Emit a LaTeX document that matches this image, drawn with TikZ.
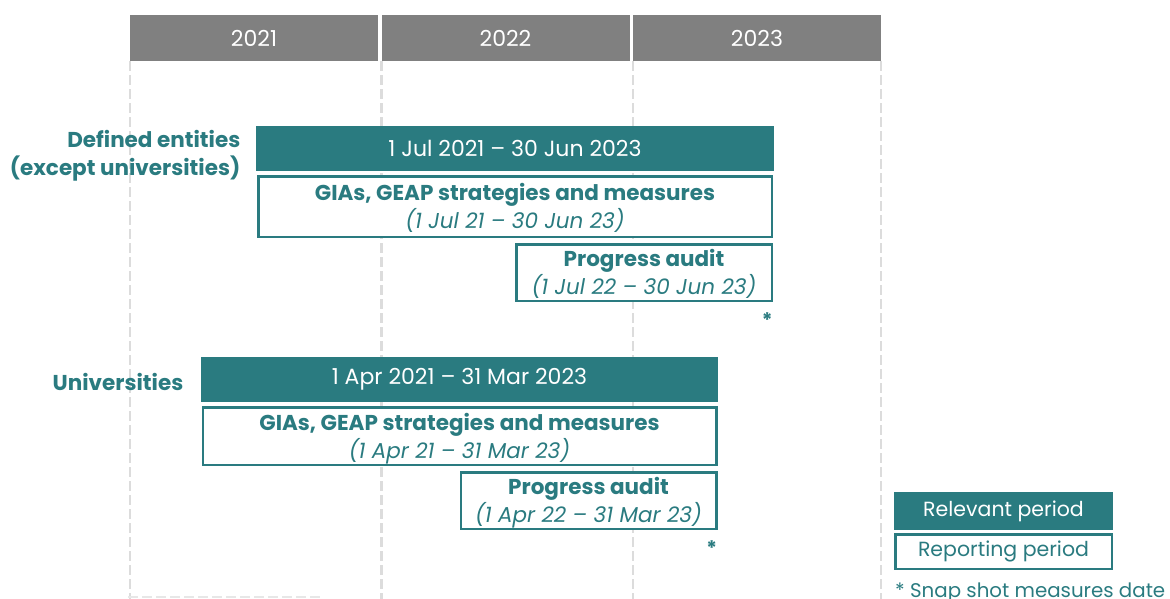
\documentclass[tikz,border=0pt]{standalone}
\usepackage{fontspec}
\setmainfont{Poppins}
\usetikzlibrary{positioning,backgrounds}

\begin{document}
\begin{tikzpicture}[x=1pt,y=-1pt]
      \definecolor{victeal}{HTML}{2A7B80}
      \definecolor{yeargray}{HTML}{808080}
      \definecolor{gridgray}{HTML}{DCDCDC}

      \newcommand{\rowname}[1]{\fontsize{21.5}{26}\selectfont\bfseries \begin{tabular}{@{}r@{}}#1\end{tabular}}
      \newcommand{\perioddesc}[2]{\fontsize{21.5}{26}\selectfont \raisebox{-3pt}[\height][\depth]{\begin{tabular}{@{}c@{}}\textbf{#1}\\\textit{#2}\end{tabular}}}

      \tikzstyle{year}      = [rectangle, fill=yeargray, text=white, minimum width=248pt, minimum height=46pt, inner sep=0pt, font=\fontsize{22}{24}\selectfont]
      \tikzstyle{relevant}  = [rectangle, fill=victeal, text=white, minimum height=45pt, inner sep=0pt, font=\fontsize{22}{24}\selectfont]
      \tikzstyle{reporting} = [rectangle, draw=victeal, line width=2.5pt, fill=white, text=victeal, inner sep=0pt]
      \tikzstyle{gridline}  = [gridgray, line width=2.5pt, dash pattern=on 10pt off 4pt]

      \useasboundingbox (0,0) rectangle (1170,599);

      % years
      \node [year] (y2021) at (254,38) {2021};
      \node [year] (y2022) at (505.5,38) {2022};
      \node [year] (y2023) at (757,38) {2023};

      % defined entities
      \node [relevant, minimum width=518pt] (defbar) at (515,148.5) {1 Jul 2021 -- 30 Jun 2023};
      \node [reporting, minimum width=513.5pt, minimum height=60.5pt, below = 4pt of defbar] (defgias)
            {\perioddesc{GIAs, GEAP strategies and measures}{(1 Jul 21 -- 30 Jun 23)}};
      \node [reporting, minimum width=255.5pt, minimum height=56.5pt, below left = 5pt and 0pt of defgias.south east] (defaudit)
            {\perioddesc{Progress audit}{(1 Jul 22 -- 30 Jun 23)}};
      \node [text=victeal, font=\fontsize{20}{22}\selectfont\bfseries, below left = 7pt and -3pt of defaudit.south east] (defstar) {*};
      \node [text=victeal, left = 12pt of defbar, yshift=-8pt] (deflabel) {\rowname{Defined entities\\(except universities)}};

      % universities
      \node [relevant, minimum width=517pt] (unibar) at (459.5,379.5) {1 Apr 2021 -- 31 Mar 2023};
      \node [reporting, minimum width=513.5pt, minimum height=57.5pt, below = 4pt of unibar] (unigias)
            {\perioddesc{GIAs, GEAP strategies and measures}{(1 Apr 21 -- 31 Mar 23)}};
      \node [reporting, minimum width=255.5pt, minimum height=56.5pt, below left = 5pt and 0pt of unigias.south east] (uniaudit)
            {\perioddesc{Progress audit}{(1 Apr 22 -- 31 Mar 23)}};
      \node [text=victeal, font=\fontsize{20}{22}\selectfont\bfseries, below left = 7pt and -3pt of uniaudit.south east] (unistar) {*};
      \node [text=victeal, left = 14pt of unibar, yshift=-6pt] (unilabel) {\rowname{Universities}};

      % legend
      \node [relevant, minimum width=219pt, minimum height=38pt, font=\fontsize{20.5}{22}\selectfont] (keyrelevant) at (1003.5,511) {Relevant period};
      \node [reporting, minimum width=216.5pt, minimum height=34.5pt, below = 3pt of keyrelevant, font=\fontsize{20.5}{22}\selectfont] (keyreporting) {Reporting period};
      \node [text=victeal, anchor=base west, inner sep=0pt, font=\fontsize{19.8}{22}\selectfont] (keynote) at (895,597) {* Snap shot measures date};

      \begin{scope}[on background layer]
        \draw [gridline] (y2021.south west) -- ++(0,540);
        \draw [gridline] (y2022.south west) -- ++(0,540);
        \draw [gridline] (y2023.south west) -- ++(0,540);
        \draw [gridline] (y2023.south east) -- ++(0,540);
        \draw [gridline, gridgray!70] (128,597) -- (320,597);
      \end{scope}
    \end{tikzpicture}
\end{document}
